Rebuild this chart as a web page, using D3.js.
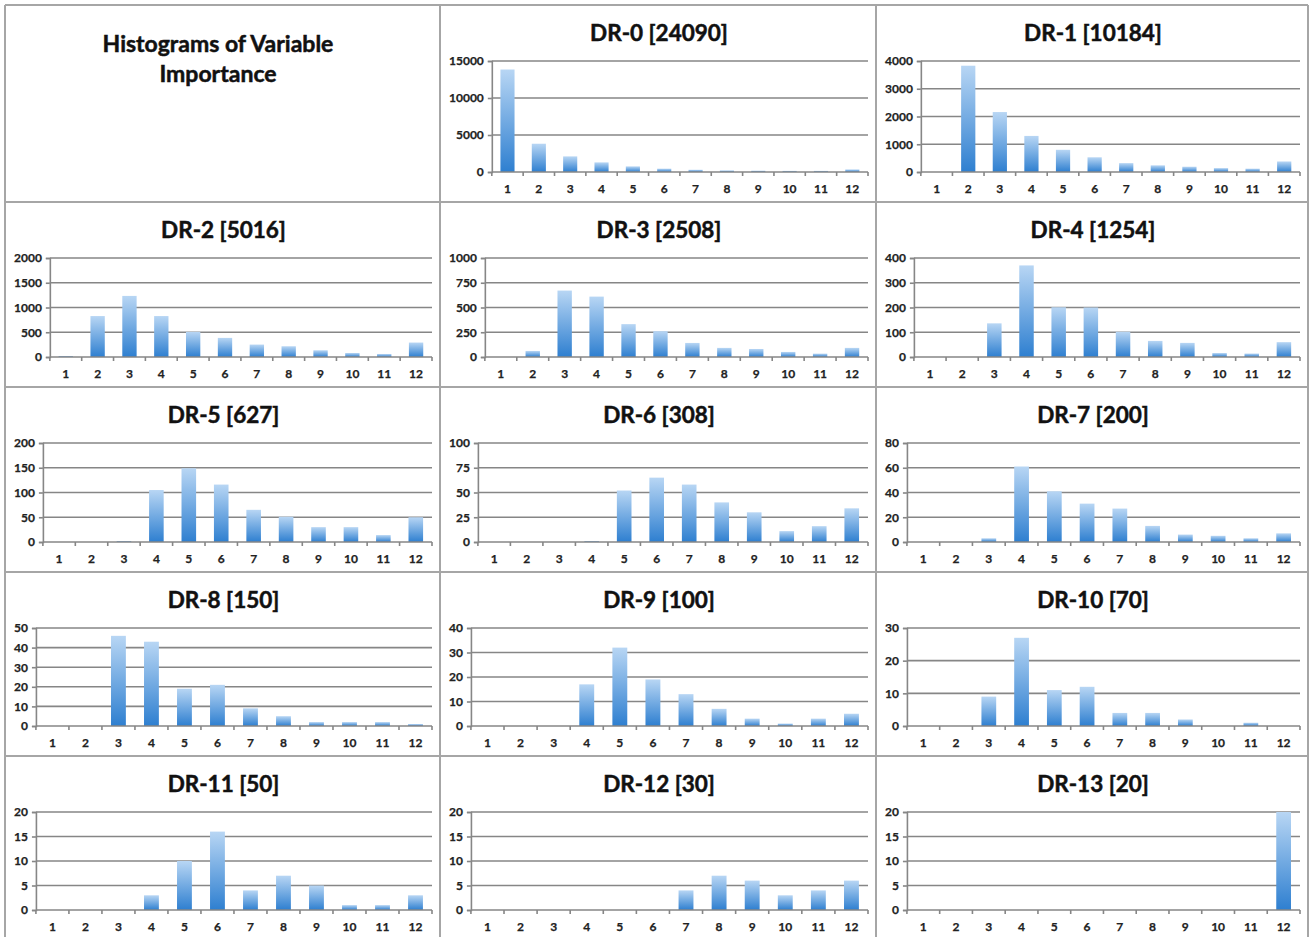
<!DOCTYPE html>
<html>
<head>
<meta charset="utf-8">
<script src="https://cdn.jsdelivr.net/npm/d3@7"></script>
<style>
  html, body { margin: 0; padding: 0; background: #fff; }
  svg { display: block; }
  text { font-family: Lato, "Open Sans", sans-serif; }
</style>
</head>
<body>
<svg id="chart" width="1311" height="937"></svg>
<script>
// ---------- data ----------
const categories = ["1","2","3","4","5","6","7","8","9","10","11","12"];
const mainTitle = ["Histograms of Variable", "Importance"];
const panelTitles = ["DR-0 [24090]","DR-1 [10184]","DR-2 [5016]","DR-3 [2508]","DR-4 [1254]",
  "DR-5 [627]","DR-6 [308]","DR-7 [200]","DR-8 [150]","DR-9 [100]","DR-10 [70]",
  "DR-11 [50]","DR-12 [30]","DR-13 [20]"];
const dr0  = [13850, 3820, 2110, 1300, 760, 450, 300, 220, 180, 150, 150, 350];
const dr1  = [0, 3830, 2160, 1300, 800, 530, 320, 240, 190, 140, 120, 380];
const dr2  = [20, 827, 1234, 827, 508, 386, 251, 217, 136, 81, 61, 292];
const dr3  = [0, 61, 671, 610, 332, 261, 142, 92, 81, 51, 34, 92];
const dr4  = [0, 0, 136, 370, 201, 200, 102, 65, 57, 16, 14, 60];
const dr5  = [0, 0, 2, 105, 149, 116, 65, 51, 30, 30, 14, 50];
const dr6  = [0, 0, 0, 1, 52, 65, 58, 40, 30, 11, 16, 34];
const dr7  = [0, 0, 3, 61, 41, 31, 27, 13, 6, 5, 3, 7];
const dr8  = [0, 0, 46, 43, 19, 21, 9, 5, 2, 2, 2, 1];
const dr9  = [0, 0, 0, 17, 32, 19, 13, 7, 3, 1, 3, 5];
const dr10 = [0, 0, 9, 27, 11, 12, 4, 4, 2, 0, 1, 0];
const dr11 = [0, 0, 0, 3, 10, 16, 4, 7, 5, 1, 1, 3];
const dr12 = [0, 0, 0, 0, 0, 0, 4, 7, 6, 3, 4, 6];
const dr13 = [0, 0, 0, 0, 0, 0, 0, 0, 0, 0, 0, 20];
const seriesList = [dr0, dr1, dr2, dr3, dr4, dr5, dr6, dr7, dr8, dr9, dr10, dr11, dr12, dr13];
const yTicks = [
  [0, 5000, 10000, 15000],
  [0, 1000, 2000, 3000, 4000],
  [0, 500, 1000, 1500, 2000],
  [0, 250, 500, 750, 1000],
  [0, 100, 200, 300, 400],
  [0, 50, 100, 150, 200],
  [0, 25, 50, 75, 100],
  [0, 20, 40, 60, 80],
  [0, 10, 20, 30, 40, 50],
  [0, 10, 20, 30, 40],
  [0, 10, 20, 30],
  [0, 5, 10, 15, 20],
  [0, 5, 10, 15, 20],
  [0, 5, 10, 15, 20]
];

// ---------- layout ----------
const svg = d3.select("#chart");
const colX = [5, 440, 876, 1308];
const rowY = [5, 202, 387, 572, 756, 940];
const borderColor = "#a6a6a6";
const gridColor = "#868686";
const tickFont = 12;

const defs = svg.append("defs");
const grad = defs.append("linearGradient").attr("id", "barGrad")
  .attr("x1", 0).attr("y1", 0).attr("x2", 0).attr("y2", 1);
grad.append("stop").attr("offset", "0%").attr("stop-color", "#b8d6f4");
grad.append("stop").attr("offset", "100%").attr("stop-color", "#2e7fd0");

svg.append("rect").attr("width", 1311).attr("height", 937).attr("fill", "#fff");

// grid borders
const borders = svg.append("g").attr("stroke", borderColor).attr("stroke-width", 2).attr("fill", "none");
colX.forEach(x => borders.append("line").attr("x1", x).attr("x2", x).attr("y1", rowY[0]).attr("y2", 937));
rowY.forEach(y => borders.append("line").attr("x1", colX[0]).attr("x2", colX[3]).attr("y1", y).attr("y2", y));

// main title cell
const mt = svg.append("text").attr("text-anchor", "middle")
  .attr("font-weight", "bold").attr("font-size", 23).attr("fill", "#111")
  .attr("stroke", "#111").attr("stroke-width", 0.5);
mainTitle.forEach((t, i) => mt.append("tspan").attr("x", 218).attr("y", 52 + i * 30).text(t));

// panels
panelTitles.forEach((title, i) => {
  const cell = i + 1;
  const r = Math.floor(cell / 3), c = cell % 3;
  const x0 = colX[c], x1 = colX[c + 1];
  const y0 = rowY[r], y1 = rowY[r + 1];
  const g = svg.append("g");

  g.append("text").attr("x", (x0 + x1) / 2 + 1).attr("y", y0 + 36)
    .attr("text-anchor", "middle").attr("font-weight", "bold").attr("font-size", 22.5)
    .attr("fill", "#111").attr("stroke", "#111").attr("stroke-width", 0.5).text(title);

  const ticks = yTicks[i];
  const meas = g.append("text").attr("font-size", tickFont).attr("font-weight", "bold")
    .text(String(ticks[ticks.length - 1]));
  const lw = meas.node().getComputedTextLength();
  meas.remove();

  const left = x0 + 8 + lw + 9;
  const right = x1 - 8;
  const top = y0 + 56;
  const bottom = y1 - 30;

  const x = d3.scaleBand().domain(categories).range([left, right]).paddingInner(0.55).paddingOuter(0.275);
  const y = d3.scaleLinear().domain([0, ticks[ticks.length - 1]]).range([bottom, top]);

  // gridlines
  g.append("g").selectAll("line").data(ticks.slice(1)).join("line")
    .attr("x1", left).attr("x2", right).attr("y1", d => y(d)).attr("y2", d => y(d))
    .attr("stroke", gridColor).attr("stroke-width", 1.6);

  // y axis
  const yAxis = g.append("g").attr("transform", `translate(${left},0)`)
    .call(d3.axisLeft(y).tickValues(ticks).tickSize(4).tickPadding(4).tickFormat(d3.format("d")));
  yAxis.select(".domain").attr("stroke", gridColor).attr("stroke-width", 1.6);
  yAxis.selectAll(".tick line").attr("stroke", gridColor).attr("stroke-width", 1.6);
  yAxis.selectAll("text").attr("font-size", tickFont).attr("font-weight", "bold").attr("fill", "#222")
    .attr("stroke", "#222").attr("stroke-width", 0.25)
    .attr("font-family", "Lato, sans-serif");

  // bars
  g.append("g").selectAll("rect").data(seriesList[i]).join("rect")
    .attr("x", (d, k) => x(categories[k]))
    .attr("width", x.bandwidth())
    .attr("y", d => y(d))
    .attr("height", d => bottom - y(d))
    .attr("fill", "url(#barGrad)");

  // x axis
  const step = x.step();
  const xAxis = g.append("g").attr("transform", `translate(0,${bottom})`);
  xAxis.append("line").attr("x1", left).attr("x2", right).attr("y1", 0).attr("y2", 0)
    .attr("stroke", gridColor).attr("stroke-width", 1.6);
  const boundaries = d3.range(categories.length + 1).map(k => left + k * step);
  xAxis.selectAll("line.tk").data(boundaries).join("line").attr("class", "tk")
    .attr("x1", d => d).attr("x2", d => d).attr("y1", 0).attr("y2", 4)
    .attr("stroke", gridColor).attr("stroke-width", 1.6);
  xAxis.selectAll("text").data(categories).join("text")
    .attr("x", d => x(d) + x.bandwidth() / 2).attr("y", 21)
    .attr("text-anchor", "middle").attr("font-size", tickFont).attr("font-weight", "bold")
    .attr("fill", "#222").attr("stroke", "#222").attr("stroke-width", 0.25).text(d => d);
});
</script>
</body>
</html>
